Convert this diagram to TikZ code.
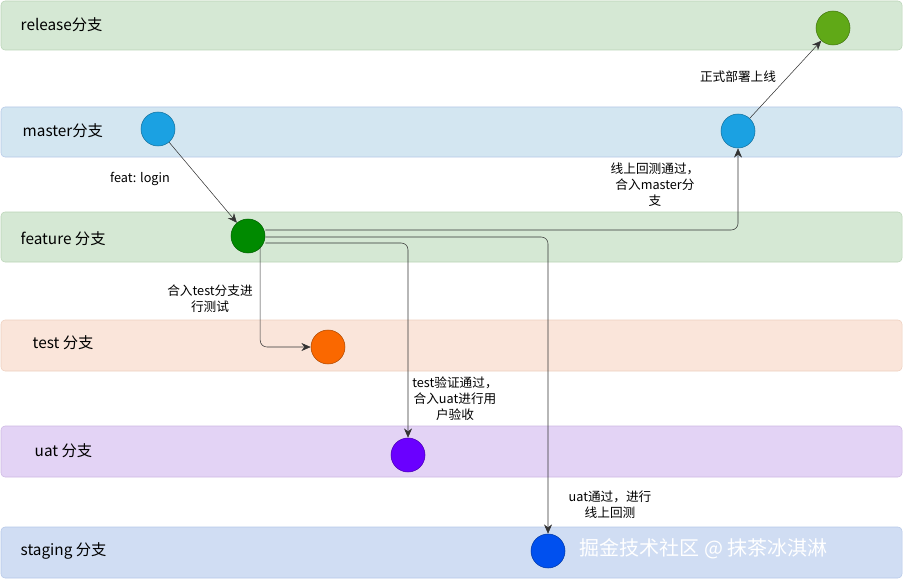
\documentclass[tikz,border=0pt]{standalone}
\usepackage{fontspec}
\setmainfont{Noto Sans CJK SC}
\usetikzlibrary{arrows.meta}
\definecolor{lgreen}{HTML}{D5E8D4}\definecolor{lgreenb}{HTML}{B9D4B6}
\definecolor{lblue}{HTML}{D0DDF3}\definecolor{lblueb}{HTML}{B6C8E8}
\definecolor{mblue}{HTML}{D3E6F1}
\definecolor{lorange}{HTML}{FAE5DA}\definecolor{lorangeb}{HTML}{EDCFBE}
\definecolor{lpurple}{HTML}{E3D3F5}\definecolor{lpurpleb}{HTML}{CDB9E2}
\tikzset{
  band/.style={draw=#1b, fill=#1, rounded corners=3pt},
  bandlabel/.style={anchor=west, font=\fontsize{11.5}{13}\selectfont},
  commit/.style={circle, minimum size=25.5pt, inner sep=0pt, draw=#1!70!black, fill=#1},
  flow/.style={-{Stealth[length=7pt,width=6pt]}, black!80, rounded corners=5pt},
  note/.style={font=\fontsize{9.5}{12}\selectfont, align=center}
}
\begin{document}
\begin{tikzpicture}[x=0.75pt,y=-0.75pt]
\useasboundingbox (0,0) rectangle (905,581);
% Branch bands
\draw[band=lgreen] (1,1) rectangle (902,50);
\draw[band=lblue, fill=mblue] (1,107) rectangle (902,157);
\draw[band=lgreen] (1,212) rectangle (902,262);
\draw[band=lorange] (1,320) rectangle (902,371);
\draw[band=lpurple] (1,426) rectangle (902,477);
\draw[band=lblue] (1,527) rectangle (902,578);
\node[bandlabel] at (16,25) {release分支};
\node[bandlabel] at (18,131) {master分支};
\node[bandlabel] at (16,239) {feature 分支};
\node[bandlabel] at (28,343) {test 分支};
\node[bandlabel] at (30,451) {uat 分支};
\node[bandlabel] at (16,551) {staging 分支};

% Commits
\definecolor{crel}{HTML}{60A917}\definecolor{cmas}{HTML}{1BA1E2}
\definecolor{cfea}{HTML}{008A00}\definecolor{ctst}{HTML}{FA6800}
\definecolor{cuat}{HTML}{6A00FF}\definecolor{cstg}{HTML}{0050EF}
\node[commit=crel] (rel) at (833,28) {};
\node[commit=cmas] (mas1) at (158,129) {};
\node[commit=cmas] (mas2) at (738,131) {};
\node[commit=cfea] (fea) at (248,236) {};
\node[commit=ctst] (tst) at (328,347) {};
\node[commit=cuat] (uat) at (408,455) {};
\node[commit=cstg] (stg) at (548,551) {};

% Flows
\draw[flow] (fea.south east) ++(0,-2) coordinate (f1) |- (tst);
\draw[flow] (mas1) -- (fea);
\draw[flow] (fea.east) ++(0,7) coordinate (f2) -| (uat);
\draw[flow] (fea.east) ++(0,1) coordinate (f3) -| (stg);
\draw[flow] (fea.east) ++(0,-6) coordinate (f4) -| (mas2);
\draw[flow] (mas2) -- (rel);

% Notes
\node[note, fill=white, inner sep=1pt] at (140,179) {feat: login};
\node[note] at (210,299) {合入test分支进\\行测试};
\node[note] at (455,399) {test验证通过，\\合入uat进行用\\户验收};
\node[note] at (610,505) {uat通过，进行\\线上回测};
\node[note] at (655,185) {线上回测通过，\\合入master分\\支};
\node[note] at (738,77) {正式部署上线};
\node[anchor=west, white, font=\fontsize{15}{17}\selectfont] at (575,549) {掘金技术社区 @ 抹茶冰淇淋};
\end{tikzpicture}
\end{document}
